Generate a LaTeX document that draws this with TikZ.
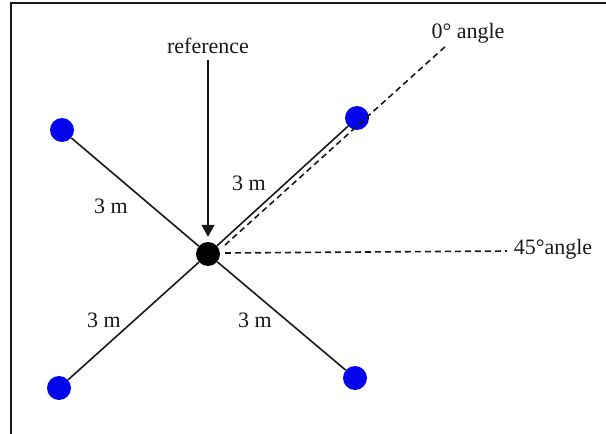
\documentclass[tikz,border=0pt]{standalone}
\usepackage{fontspec}
\setmainfont{Liberation Serif}
\usetikzlibrary{arrows.meta}
\definecolor{dotblue}{RGB}{5,5,235}
\definecolor{ink}{RGB}{25,25,25}
\begin{document}
\begin{tikzpicture}[x=1pt,y=-1pt,
  dotnode/.style={circle,minimum size=24pt,inner sep=0pt,draw=none},
  bluedot/.style={dotnode,fill=dotblue},
  blackdot/.style={dotnode,fill=black},
  lbl/.style={font=\fontsize{22}{26}\selectfont,inner sep=0pt,anchor=base,text=ink},
  arm/.style={line width=1.6pt,draw=ink},
  dashline/.style={line width=1.6pt,draw=ink,dash pattern=on 6pt off 4pt},
  refarrow/.style={line width=1.4pt,draw=ink,-{Triangle[length=12pt,width=13pt]}},
  frame/.style={line width=2pt,draw=ink}
]
\useasboundingbox (0,0) rectangle (606,434);
% frame
\coordinate (fbl) at (11,434);
\coordinate (ftl) at (11,3);
\coordinate (ftr) at (606,3);
\draw[frame] (fbl) -- (ftl) -- (ftr);

% nodes
\node[blackdot] (c) at (208,254) {};
\node[bluedot] (tl) at (62,130) {};
\node[bluedot] (tr) at (357,118) {};
\node[bluedot] (bl) at (59,388) {};
\node[bluedot] (br) at (355,378) {};

% arms
\draw[arm] (c) -- (tl);
\draw[arm] (c) -- (tr);
\draw[arm] (c) -- (bl);
\draw[arm] (c) -- (br);

% labels
\node[lbl] (ref) at (208,53) {reference};
\node[lbl] (a0) at (468,38) {0° angle};
\node[lbl] (a45) at (553,254) {45°angle};
\node[lbl] (m1) at (111,213) {3 m};
\node[lbl] (m2) at (249,190) {3 m};
\node[lbl] (m3) at (104,327) {3 m};
\node[lbl] (m4) at (255,327) {3 m};

% reference arrow
\draw[refarrow,shorten <=7pt,shorten >=5pt] (ref.south) -- (c.north);

% dashed angle lines
\coordinate (d0s) at (225,245);
\coordinate (d0e) at (447,45);
\draw[dashline] (d0s) -- (d0e);
\coordinate (d45s) at (225,253);
\coordinate (d45e) at (507,251);
\draw[dashline] (d45s) -- (d45e);
\end{tikzpicture}
\end{document}
